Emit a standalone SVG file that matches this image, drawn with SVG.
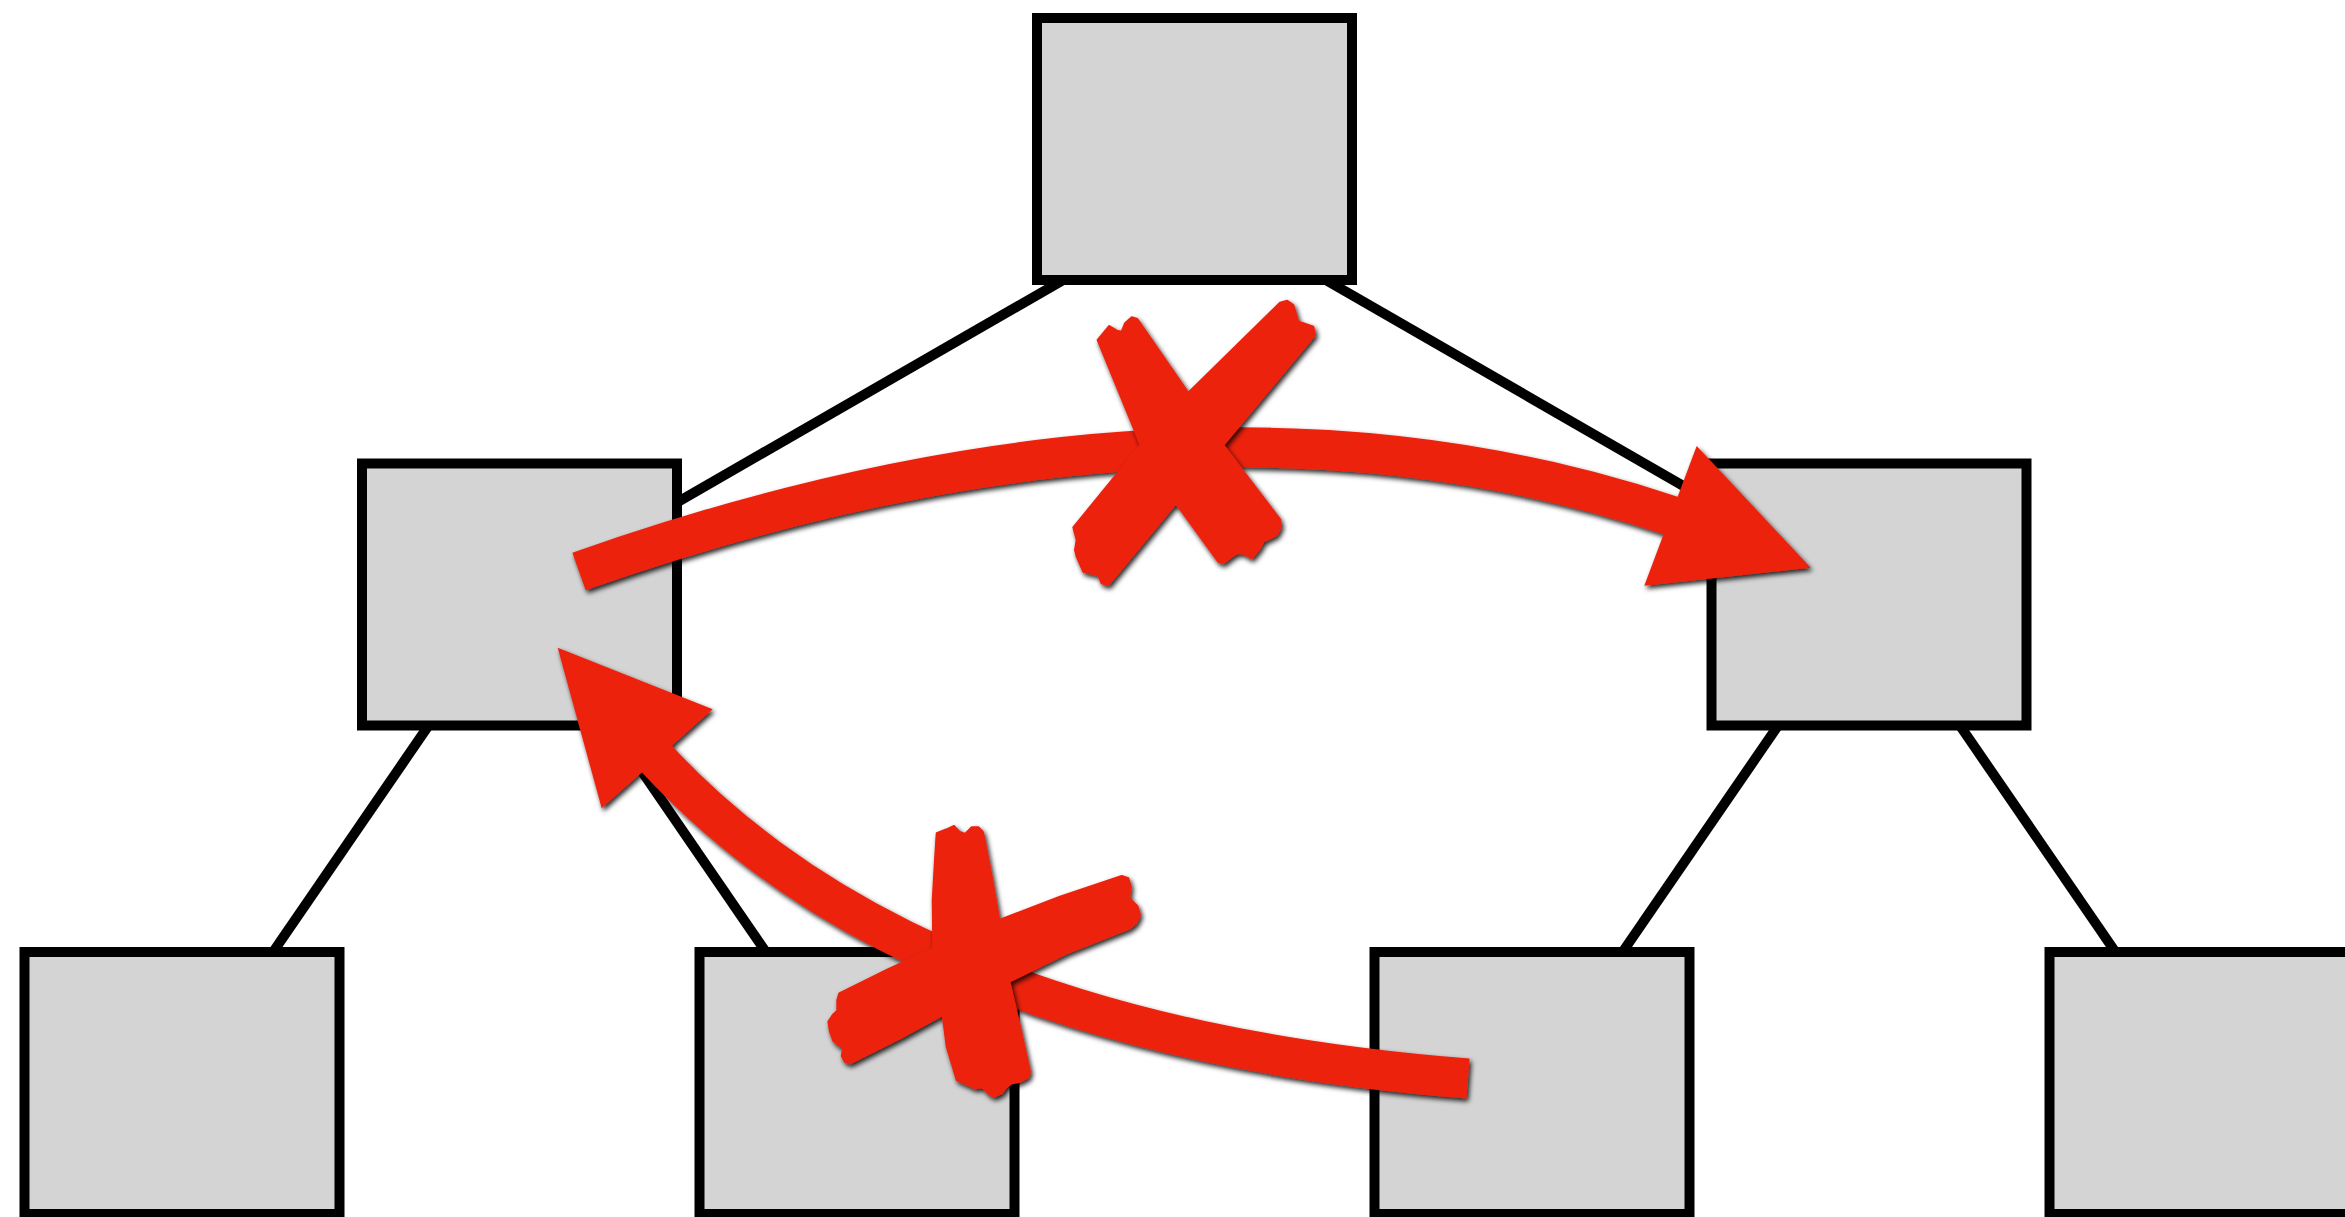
<svg xmlns="http://www.w3.org/2000/svg" width="2345" height="1217" viewBox="0 0 2345 1217">
  <defs>
    <filter id="shadow" x="-20%" y="-20%" width="140%" height="140%">
      <feDropShadow dx="2" dy="3" stdDeviation="2.5" flood-color="#000" flood-opacity="0.85"/>
    </filter>
    <style>
      .node { fill: #d4d4d4; stroke: #000; stroke-width: 10; }
      .link { stroke: #000; stroke-width: 10; fill: none; }
      .shaft { stroke: #ec2210; stroke-width: 40; fill: none; stroke-linecap: butt; }
      .red { fill: #ec2210; }
      .mark { fill: #ec2210; stroke: #ec2210; stroke-width: 2; stroke-linejoin: round; }
    </style>
  </defs>
  <rect width="2345" height="1217" fill="#fff"/>

  <g id="connectors">
    <line class="link" x1="1098" y1="260" x2="650" y2="518"/>
    <line class="link" x1="1291" y1="260" x2="1739" y2="518"/>
    <line class="link" x1="446.1" y1="700" x2="257.3" y2="975"/>
    <line class="link" x1="592.9" y1="700" x2="781.7" y2="975"/>
    <line class="link" x1="1795.6" y1="700" x2="1606.8" y2="975"/>
    <line class="link" x1="1942.4" y1="700" x2="2131.2" y2="975"/>
  </g>

  <g id="node-root"><rect class="node" x="1037" y="18" width="315" height="262"/></g>
  <g id="node-left"><rect class="node" x="362" y="463.5" width="315" height="262"/></g>
  <g id="node-right"><rect class="node" x="1711.5" y="463.5" width="315" height="262"/></g>
  <g id="node-left-left"><rect class="node" x="24.5" y="952" width="315" height="262"/></g>
  <g id="node-left-right"><rect class="node" x="699.5" y="952" width="315" height="262"/></g>
  <g id="node-right-left"><rect class="node" x="1374.5" y="952" width="315" height="262"/></g>
  <g id="node-right-right"><rect class="node" x="2049.5" y="952" width="315" height="262"/></g>

  <g id="annotations">
    <g id="arrow-upper" filter="url(#shadow)">
      <path class="shaft" d="M579,571.5 Q1192,355 1672,516"/>
      <polygon class="red" points="1810.7,567.7 1696.7,446 1644.3,585.7"/>
    </g>
    <g id="arrow-lower" filter="url(#shadow)">
      <path class="shaft" d="M1468,1078.5 Q910,1035 655,757"/>
      <polygon class="red" points="557.7,647.7 712.7,709.3 601.7,808.3"/>
    </g>
    <g id="cross-upper" filter="url(#shadow)">
      <polygon class="mark" points="1097.7,340 1109.3,326 1116.7,330.7 1121.7,331.7 1125,323.3 1131.7,317.3 1137.3,319 1188.3,392.7 1280,302.7 1287.3,300.7 1293.3,305 1298.3,321.7 1303.3,323.3 1313.3,326.7 1315,335 1223.3,445 1280,519.3 1281,526.7 1276.7,535 1270,538.3 1263.3,541.7 1260,548.3 1251.7,558.3 1243.3,553.3 1236.7,553.3 1231.7,556.7 1223.3,563.3 1218.3,561.7 1176,503.3 1108.3,585 1101.7,583.3 1098.3,575 1090,573.3 1083.3,571.7 1076.7,556.7 1075,550 1076.7,540 1073.3,527.3 1140.7,445"/>
    </g>
    <g id="cross-lower" filter="url(#shadow)">
      <polygon class="mark" points="936.7,833.3 946.7,829.3 954,826 959.3,831.7 965,834 968.3,830.7 971.7,827.3 978.3,827.3 982.7,831.7 984,836.7 991.7,876.7 999.3,920 1060,896.7 1121.7,876 1128.3,878.3 1130.7,886.7 1129.3,896.7 1132.7,901.7 1137.3,906 1140,915 1136,923.3 1130,928.3 1066.7,953.3 1009.3,981.7 1020,1026.7 1030,1071.7 1028.3,1077.3 1020,1081.7 1011.7,1083.3 1006.7,1086.7 1001.7,1093.3 993.3,1096.7 987.3,1092.7 982.7,1087.3 975,1088.3 968.3,1085 956.7,1080 946.7,1046.7 942.7,1015 900,1038.3 850,1063.3 845,1061.7 841.7,1056 843.3,1048.3 838.3,1045 833.3,1040.7 830,1031.7 828.3,1021.7 832.7,1015 837.3,1010.7 837.3,1000 839.3,993.3 886.7,970 933.3,948.3 932.7,900 935,860"/>
    </g>
  </g>
</svg>
